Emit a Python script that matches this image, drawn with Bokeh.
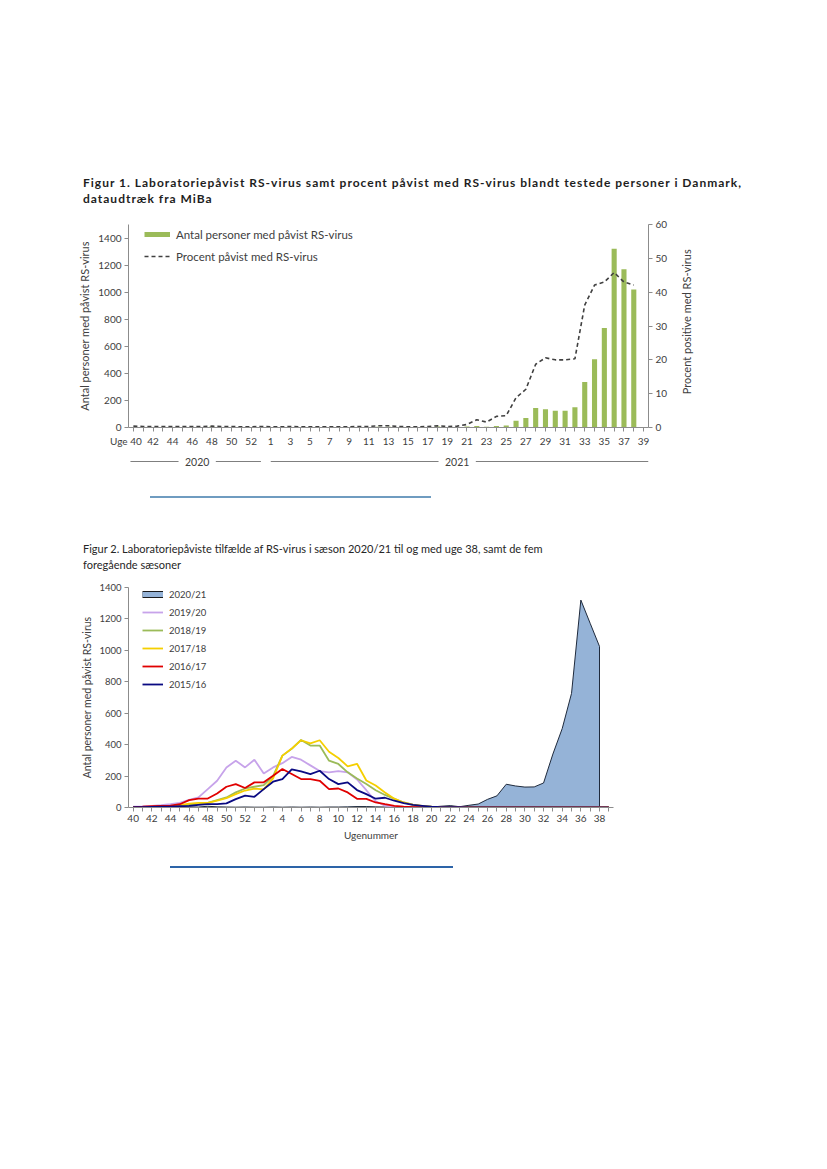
import math
from bokeh.plotting import figure
from bokeh.models import (Range1d, LinearAxis, FixedTicker, Legend, LegendItem,
                          Div, Spacer, FactorRange, CustomJSTickFormatter)
from bokeh.layouts import column, row
from bokeh.embed import file_html
from bokeh.resources import INLINE
from bokeh.core.properties import value

FONT = "Lato"
TXT = "#404040"
AXC = "#8c8c8c"
NAN = float("nan")

# ---------------- data: figure 1 ----------------
fig1_weeks = [str(w) for w in range(40, 54)] + [str(w) for w in range(1, 40)]   # 2020 w40-53, 2021 w1-39
fig1_data_weeks = fig1_weeks[:-1]                                                 # data up to week 38
antal_positive = [3, 2, 3, 2, 3, 3, 4, 3, 8, 4, 3, 2, 3, 3,
                  2, 2, 3, 2, 3, 2, 3, 2, 3, 3, 4, 6, 6, 4, 3, 2, 3, 7, 4, 3,
                  8, 12, 5, 12, 14, 49, 71, 145, 135, 123, 123, 150, 337, 505, 736, 1320, 1170, 1020]
procent_positive = [0.4, 0.3, 0.3, 0.3, 0.3, 0.3, 0.3, 0.3, 0.4, 0.3, 0.3, 0.2, 0.2, 0.3,
                    0.2, 0.2, 0.3, 0.2, 0.2, 0.2, 0.2, 0.2, 0.2, 0.3, 0.3, 0.5, 0.5, 0.3, 0.2, 0.2, 0.3, 0.5, 0.3, 0.4,
                    0.9, 2.3, 1.6, 3.3, 3.5, 8.8, 11.3, 18.7, 20.6, 20.0, 20.0, 20.3, 36.2, 42.1, 43.0, 45.8, 43.0, 42.1]
year_groups = [("2020", 14), ("2021", 39)]   # label, number of weeks in group
left_ticks_1 = [0, 200, 400, 600, 800, 1000, 1200, 1400]
right_ticks_1 = [0, 10, 20, 30, 40, 50, 60]
x_title_1 = "Uge"

# ---------------- data: figure 2 ----------------
fig2_weeks = [str(w) for w in range(40, 53)] + [str(w) for w in range(1, 40)]
season_2020_21 = [3, 2, 3, 2, 3, 3, 4, 3, 8, 4, 3, 2, 3,
                  2, 2, 3, 2, 3, 2, 3, 2, 3, 3, 4, 6, 6, 4, 3, 2, 3, 7, 4, 3,
                  8, 12, 5, 14, 22, 52, 74, 148, 137, 130, 131, 156, 340, 502, 726, 1320, 1172, 1025]
season_2019_20 = [5, 7, 10, 15, 22, 30, 49, 64, 117, 170, 255, 298, 255,
                  304, 217, 255, 282, 322, 304, 268, 232, 224, 232, 224, 178, 110,
                  40, 12, 5, 3, 2, 2, 1, 1, 1, 1, 1, 1, 1,
                  1, 1, 1, 1, 1, 1, 1, 1, 1, 1, 1, 1, 1]
season_2018_19 = [2, 3, 4, 5, 6, 10, 16, 22, 30, 47, 64, 96, 121,
                  132, 143, 200, 330, 373, 430, 394, 394, 298, 277, 224, 185, 150,
                  110, 80, 55, 32, 18, 8, 4, 2, 2, 1, 1, 1, 1,
                  1, 1, 1, 1, 1, 1, 1, 1, 1, 1, 1, 1, 1]
season_2017_18 = [3, 3, 4, 5, 8, 15, 25, 30, 30, 43, 60, 85, 108,
                  120, 115, 185, 330, 375, 428, 408, 428, 355, 315, 262, 278, 172,
                  140, 95, 56, 32, 17, 10, 5, 3, 2, 1, 1, 1, 1,
                  1, 1, 1, 1, 1, 1, 1, 1, 1, 1, 1, 1, 1]
season_2016_17 = [3, 5, 8, 10, 12, 21, 47, 57, 57, 89, 132, 149, 124,
                  160, 160, 202, 245, 213, 181, 181, 170, 117, 121, 96, 55, 55,
                  32, 21, 11, 5, 3, 2, 1, 1, 1, 1, 1, 1, 1,
                  1, 1, 1, 1, 1, 1, 1, 1, 1, 1, 1, 1, 1]
season_2015_16 = [3, 3, 4, 5, 6, 8, 10, 17, 21, 21, 26, 53, 75,
                  68, 117, 164, 181, 243, 230, 213, 234, 181, 149, 160, 111, 85,
                  56, 62, 43, 28, 17, 11, 5, 3, 2, 2, 1, 1, 1,
                  1, 1, 1, 1, 1, 1, 1, 1, 1, 1, 1, 1, 1]
season_labels = ["2020/21", "2019/20", "2018/19", "2017/18", "2016/17", "2015/16"]
season_colors = ["#95b3d7", "#c7a3ea", "#9bbb59", "#f5cf00", "#e00000", "#0a0a82"]
left_ticks_2 = [0, 200, 400, 600, 800, 1000, 1200, 1400]


def style_axis(ax, size="10px"):
    ax.axis_line_color = AXC
    ax.major_tick_line_color = AXC
    ax.minor_tick_line_color = None
    ax.major_tick_out = 4
    ax.major_tick_in = 0
    ax.major_label_text_font = FONT
    ax.major_label_text_font_size = size
    ax.major_label_text_color = TXT
    ax.axis_label_text_font = FONT
    ax.axis_label_text_font_style = "normal"
    ax.axis_label_text_color = TXT
    ax.major_label_standoff = 3


def every_other(prefix=""):
    # label every second week; optional prefix placed before the first label
    # (first label padded with em spaces so the week number stays centred on its category)
    return CustomJSTickFormatter(args=dict(prefix=prefix), code="""
        if (index % 2 == 1) return '';
        if (index == 0 && prefix.length > 0) return prefix + ' ' + tick + '\\u2003\\u2003';
        return tick;
    """)


def blank_figure(width, height, **kw):
    f = figure(width=width, height=height, toolbar_location=None, output_backend="svg",
               x_axis_type=None, y_axis_type=None, **kw)
    f.outline_line_color = None
    f.grid.grid_line_color = None
    return f


# ---------------- figure 1 ----------------
p1 = figure(width=672, height=243, x_range=FactorRange(*fig1_weeks), y_range=Range1d(0, 1500),
            toolbar_location=None, output_backend="svg",
            min_border_left=128, min_border_right=24, min_border_top=15, min_border_bottom=25)
p1.extra_y_ranges = {"pct": Range1d(0, 60)}
p1.outline_line_color = None
p1.grid.grid_line_color = None

bars = p1.vbar(x=fig1_data_weeks, top=antal_positive, width=0.52, fill_color="#9bbb59", line_color=None)
pct_line = p1.line(x=fig1_data_weeks, y=procent_positive, y_range_name="pct",
                   line_color="#404040", line_width=1.6, line_dash="4 3")
bar_swatch = p1.line(x=[fig1_weeks[0]], y=[NAN], line_color="#9bbb59", line_width=5)

style_axis(p1.xaxis[0])
p1.xaxis[0].formatter = every_other(x_title_1)
ly = p1.yaxis[0]
style_axis(ly)
ly.ticker = FixedTicker(ticks=left_ticks_1)
ly.axis_label = "Antal personer med påvist RS-virus"
ly.axis_label_text_font_size = "11px"
ly.axis_label_standoff = 4
ry = LinearAxis(y_range_name="pct", ticker=FixedTicker(ticks=right_ticks_1))
style_axis(ry)
p1.add_layout(ry, "right")

leg1 = Legend(items=[LegendItem(label="Antal personer med påvist RS-virus", renderers=[bar_swatch]),
                     LegendItem(label="Procent påvist med RS-virus", renderers=[pct_line])],
              location=(16, 164), glyph_width=26, glyph_height=14, label_height=14, spacing=8,
              padding=0, margin=0, border_line_color=None, background_fill_alpha=0,
              label_text_font=FONT, label_text_font_size="11.5px", label_text_color=TXT, label_standoff=6)
p1.add_layout(leg1)

# right-hand axis title (reads bottom-to-top, like the left one)
p1r = blank_figure(28, 243, x_range=Range1d(0, 1), y_range=Range1d(0, 243),
                   min_border_left=0, min_border_right=0, min_border_top=0, min_border_bottom=0)
p1r.text(x=[0.5], y=[243 - 15 - 203 / 2], text=["Procent positive med RS-virus"], angle=math.pi / 2,
         text_align="center", text_baseline="middle", text_font=value(FONT),
         text_font_size="11px", text_color=TXT)

# year row under figure 1
n1 = len(fig1_weeks)
p1y = blank_figure(708, 18, x_range=Range1d(0, n1), y_range=Range1d(0, 1),
                   min_border_left=128, min_border_right=60, min_border_top=0, min_border_bottom=0)
gap = 1.9
start = 0
x0s, x1s, mids = [], [], []
for i, (lab, n) in enumerate(year_groups):
    mid = start + n / 2
    first = i == 0
    x0s += [start + (0.2 if first else 0.5), mid + gap]
    x1s += [mid - gap, start + n - (0.5 if first else 0)]
    mids.append(mid)
    start += n
p1y.segment(x0=x0s, y0=0.5, x1=x1s, y1=0.5, line_color="#7f7f7f", line_width=1)
p1y.text(x=mids, y=0.5, text=[g[0] for g in year_groups], text_align="center", text_baseline="middle",
         text_font=value(FONT), text_font_size="10.5px", text_color=TXT)

# ---------------- figure 2 ----------------
p2 = figure(width=673, height=272, x_range=FactorRange(*fig2_weeks), y_range=Range1d(0, 1400),
            toolbar_location=None, output_backend="svg",
            min_border_left=124, min_border_right=20, min_border_top=14, min_border_bottom=38)
p2.outline_line_color = None
p2.grid.grid_line_color = None

area_weeks = fig2_weeks[:len(season_2020_21)]
p2.patch(x=area_weeks + [area_weeks[-1], area_weeks[0]], y=season_2020_21 + [0, 0],
         fill_color=season_colors[0], line_color="#1f2a3c", line_width=1)
series = [season_2019_20, season_2018_19, season_2017_18, season_2016_17, season_2015_16]
renderers = []
for s, c in zip(series, season_colors[1:]):
    renderers.append(p2.line(x=fig2_weeks, y=s, line_color=c, line_width=1.8))
sw_out = p2.line(x=[fig2_weeks[0]], y=[NAN], line_color="#1a1a1a", line_width=7)
sw_in = p2.line(x=[fig2_weeks[0]], y=[NAN], line_color=season_colors[0], line_width=5)

style_axis(p2.xaxis[0], "10px")
p2.xaxis[0].formatter = every_other()
p2.xaxis[0].axis_label = "Ugenummer"
p2.xaxis[0].axis_label_text_font_size = "10px"
p2.xaxis[0].axis_label_standoff = 4
style_axis(p2.yaxis[0], "9.5px")
p2.yaxis[0].ticker = FixedTicker(ticks=left_ticks_2)
p2.yaxis[0].axis_label = "Antal personer med påvist RS-virus"
p2.yaxis[0].axis_label_text_font_size = "10.5px"
p2.yaxis[0].axis_label_standoff = 3

items2 = [LegendItem(label=season_labels[0], renderers=[sw_out, sw_in])]
for lab, r in zip(season_labels[1:], renderers):
    items2.append(LegendItem(label=lab, renderers=[r]))
leg2 = Legend(items=items2, location=(14, 117), glyph_width=21, glyph_height=12, label_height=12,
              spacing=6, padding=0, margin=0, border_line_color=None, background_fill_alpha=0,
              label_text_font=FONT, label_text_font_size="9.5px", label_text_color=TXT, label_standoff=6)
p2.add_layout(leg2)

# ---------------- page ----------------
def title_div(lines, css, height):
    html = "".join(f'<div style="font-family:Lato;line-height:16px;height:16px;white-space:nowrap;'
                   f'padding-left:83px;{css}">{t}</div>' for t in lines)
    return Div(text=html, width=810, height=height, margin=0)


title1 = title_div(["Figur 1. Laboratoriepåvist RS-virus samt procent påvist med RS-virus blandt testede "
                    "personer i Danmark,", "dataudtræk fra MiBa"],
                   "font-size:12px;font-weight:bold;letter-spacing:1px;color:#1e1e1e;", 34)
title2 = title_div(["Figur 2. Laboratoriepåviste tilfælde af RS-virus i sæson 2020/21 til og med uge 38, "
                    "samt de fem", "foregående sæsoner"], "font-size:11px;color:#262626;", 32)
sep1 = row(Spacer(width=150, height=2),
           Div(text="", width=281, height=2, margin=0, styles={"background-color": "#6f9cc0"}))
sep2 = row(Spacer(width=170, height=2),
           Div(text="", width=283, height=2, margin=0, styles={"background-color": "#2d64a8"}))

page = column(Spacer(height=175), title1, row(p1, p1r), p1y, Spacer(height=26), sep1, Spacer(height=43),
              title2, p2, Spacer(height=21), sep2, spacing=0)

open("out.html", "w").write(file_html(page, INLINE))
